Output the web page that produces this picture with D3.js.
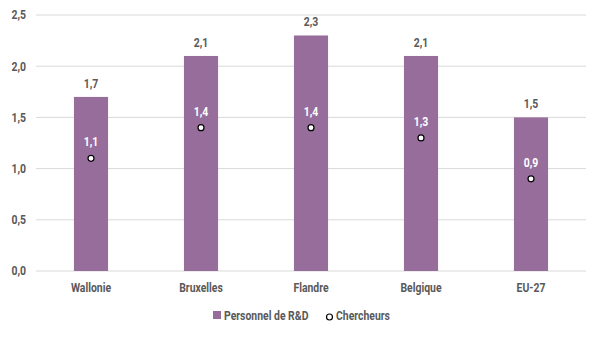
<!DOCTYPE html>
<html><head><meta charset="utf-8">
<script src="https://cdn.jsdelivr.net/npm/d3@7"></script>
<style>
body{margin:0;background:#fff;}
text{font-family:Roboto,sans-serif;font-weight:bold;font-size:12px;}
</style></head><body>
<svg id="c" width="600" height="351"></svg>
<script>
const categories = ["Wallonie","Bruxelles","Flandre","Belgique","EU-27"];
const personnel = [1.7,2.1,2.3,2.1,1.5];
const chercheurs = [1.1,1.4,1.4,1.3,0.9];
const yTicks = [0,0.5,1.0,1.5,2.0,2.5];
const seriesNames = ["Personnel de R&D","Chercheurs"];

const fmt = v => d3.format(".1f")(v).replace(".", ",");
const svg = d3.select("#c");
const m = {l:36, r:14, t:15, b:80};
const W = 600, H = 351;
const SX = 0.87;
const x = d3.scaleBand().domain(categories).range([m.l, W-m.r]).paddingInner(0.69).paddingOuter(0.345);
const y = d3.scaleLinear().domain([0,2.5]).range([271, 15]);
const grey = "#595959", purple = "#976d9c";

function label(g, px, py, txt, fill, anchor) {
  return g.append("text").attr("transform", `translate(${px},${py}) scale(${SX},1)`)
    .attr("text-anchor", anchor || "start").attr("fill", fill).text(txt);
}

svg.append("g").selectAll("line").data(yTicks).join("line")
  .attr("x1", m.l).attr("x2", W-m.r)
  .attr("y1", d=>y(d)).attr("y2", d=>y(d))
  .attr("stroke", "#d9d9d9").attr("stroke-width", 1);

const ya = svg.append("g").attr("transform", `translate(${m.l-10},0)`)
  .call(d3.axisLeft(y).tickValues(yTicks).tickFormat(fmt).tickSize(0).tickPadding(0));
ya.select(".domain").remove();
ya.attr("font-family", null).attr("font-size", null);
ya.selectAll("text").attr("fill", grey).attr("transform", `scale(${SX},1)`);

svg.append("g").selectAll("rect").data(personnel).join("rect")
  .attr("x", (d,i)=>x(categories[i])).attr("width", x.bandwidth())
  .attr("y", d=>y(d)).attr("height", d=>y(0)-y(d))
  .attr("fill", purple);

const bl = svg.append("g");
personnel.forEach((d,i)=>label(bl, x(categories[i])+x.bandwidth()/2, y(d)-9, fmt(d), grey, "middle"));

const xa = svg.append("g").attr("transform", `translate(0,${y(0)})`)
  .call(d3.axisBottom(x).tickSize(0).tickPadding(12));
xa.select(".domain").remove();
xa.attr("font-family", null).attr("font-size", null);
xa.selectAll("text").attr("fill", grey).attr("transform", `scale(${SX},1)`);

svg.append("g").selectAll("circle").data(chercheurs).join("circle")
  .attr("cx", (d,i)=>x(categories[i])+x.bandwidth()/2)
  .attr("cy", d=>y(d)).attr("r", 3)
  .attr("fill", "#fff").attr("stroke", "#000").attr("stroke-width", 1.2);

const cl = svg.append("g");
chercheurs.forEach((d,i)=>label(cl, x(categories[i])+x.bandwidth()/2, y(d)-12, fmt(d), "#fff", "middle"));

const lg = svg.append("g");
lg.append("rect").attr("x",213).attr("y",311).attr("width",8).attr("height",8).attr("fill",purple);
label(lg, 224, 319.5, seriesNames[0], grey);
lg.append("circle").attr("cx",329.5).attr("cy",317).attr("r",3).attr("fill","#fff").attr("stroke","#000").attr("stroke-width",1.2);
label(lg, 336, 319.5, seriesNames[1], grey);
</script>
</body></html>
